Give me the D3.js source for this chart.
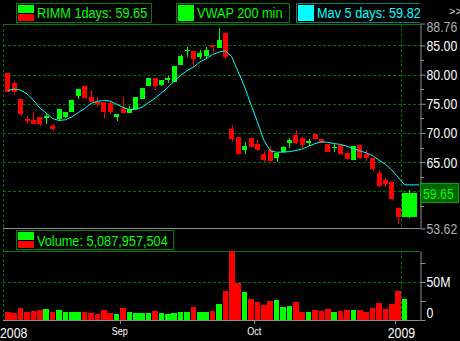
<!DOCTYPE html>
<html>
<head>
<meta charset="utf-8">
<script src="https://cdnjs.cloudflare.com/ajax/libs/d3/7.8.5/d3.min.js"></script>
<style>
    html, body { margin: 0; padding: 0; background: #000; }
    svg { display: block; }
    text { font-family: "Liberation Sans", Arial, sans-serif; }
</style>
</head>
<body>
<svg id="chart" width="460" height="341"></svg>
<script>
'use strict';

// daily candles (last one is the current day)
var opens = [80.33, 78.6, 75.82, 72.45, 72.28, 72.74, 72.52, 71.25, 72.35, 72.74,
    73.65, 76.39, 78.05, 76.16, 75.53, 75.36, 75.14, 72.79, 74.33, 73.48,
    74.11, 75.82, 78.05, 79.37, 78.27, 79.08, 78.68, 81.7, 83.99, 84.04,
    83.07, 83.24, 85.02, 84.64, 87.12, 70.68, 69.31, 67.09, 69.14, 68.12,
    66.4, 67.09, 65.77, 66.8, 68.34, 69.71, 69.2, 68.34, 69.88, 68.97,
    68.17, 67.38, 67.94, 66.63, 65.35, 67.94, 66.4, 65.77, 63.1, 61.95,
    61.55, 57.1, 55.67];
var highs = [80.33, 78.96, 75.82, 72.9, 73.65, 72.74, 73.48, 71.59, 74.11, 73.6,
    75.65, 77.53, 78.05, 77.36, 76.16, 75.36, 75.48, 73.25, 76.16, 74.62,
    76.16, 77.7, 79.37, 79.37, 79.08, 79.81, 81.47, 83.35, 84.78, 84.04,
    84.21, 84.73, 85.02, 87.93, 87.12, 71.37, 69.31, 68.46, 69.14, 68.75,
    66.92, 67.77, 66.58, 67.83, 69.2, 70.51, 69.37, 68.97, 69.88, 68.97,
    68.17, 68.17, 67.94, 66.97, 67.77, 67.94, 67.09, 65.77, 63.66, 62.29,
    61.55, 57.33, 60.24];
var lows = [77.07, 76.5, 72.9, 71.6, 71.59, 71.25, 71.49, 70.34, 72.06, 72.52,
    73.65, 75.82, 75.82, 75.36, 74.4, 72.4, 73.3, 72.1, 73.48, 73.48,
    74.11, 75.82, 78.05, 77.36, 78.05, 78.5, 78.68, 81.7, 83.07, 81.52,
    82.67, 82.84, 83.75, 84.64, 82.72, 68.52, 66.35, 66.35, 67.55, 66.97,
    65.09, 65.09, 65.09, 66.8, 67.48, 68.17, 67.38, 67.77, 69.03, 68.24,
    66.8, 66.75, 66.23, 65.46, 65.35, 65.55, 65.15, 63.55, 60.81, 60.81,
    58.5, 54.42, 55.4];
var closes = [77.07, 76.97, 73.2, 72.0, 71.59, 71.59, 72.96, 70.63, 74.11, 73.6,
    75.65, 77.53, 76.04, 75.36, 74.97, 73.54, 73.65, 73.25, 73.48, 74.11,
    76.16, 77.7, 79.37, 78.05, 79.08, 79.47, 81.47, 83.18, 84.21, 82.62,
    83.75, 84.21, 84.67, 85.92, 82.96, 68.92, 66.35, 67.77, 67.55, 67.15,
    65.33, 65.26, 66.58, 67.66, 68.85, 68.34, 67.89, 68.63, 69.03, 68.24,
    66.8, 67.66, 66.46, 65.46, 67.77, 65.77, 65.63, 63.78, 60.93, 61.27,
    58.7, 55.67, 59.65];

// volume in millions
var volumes = [10.5, 9.2, 15.8, 10.5, 11.8, 13.2, 14.5, 10.5, 13.2, 10.5,
    10.5, 10.5, 10.5, 9.2, 7.9, 13.2, 9.2, 7.9, 15.8, 10.5,
    9.2, 9.2, 9.2, 11.8, 9.2, 7.9, 9.2, 10.5, 10.5, 17.1,
    10.5, 10.5, 11.8, 21, 38.2, 92, 49.1, 36.8, 27.6, 24.1,
    19.7, 25.4, 26.3, 17.1, 18.4, 23.7, 10.5, 10.5, 13.2, 11.8,
    14.5, 10.5, 11.8, 13.2, 13.2, 13.2, 10.5, 15.8, 22.4, 14.5,
    21, 38.2, 27.6];

// the cyan moving average line
var mav = [77.28, 77.52, 77.35, 76.70, 75.62, 74.28, 73.39, 72.47, 72.14, 72.26,
    72.74, 73.49, 74.18, 75.07, 75.43, 75.57, 75.45, 74.93, 74.37, 74.01,
    74.04, 74.42, 75.21, 75.94, 76.85, 77.81, 78.90, 79.85, 80.70, 81.27,
    82.14, 82.74, 83.44, 83.87, 84.08, 83.03, 80.48, 77.91, 74.86, 71.90,
    68.80, 66.95, 66.70, 66.70, 66.80, 66.99, 67.24, 67.71, 68.17, 68.48,
    68.39, 68.18, 68.03, 67.72, 67.36, 66.93, 66.58, 66.13, 65.31, 64.66,
    63.66, 62.38, 61.10];

var priceTicks = [88.76, 85, 80, 75, 70, 65, 60, 53.62];
var priceMinorTicks = [82.5, 77.5, 72.5, 67.5, 62.5, 57.5];
var priceGrid = [85, 80, 75, 70, 65, 60];
var volTicks = [0, 25, 50, 75];
var volLabels = { 0: '0', 50: '50M' };
var monthTicks = [{ label: 'Sep', i: 18 }, { label: 'Oct', i: 39 }, { label: '', i: 61 }];
var yearLabels = [{ label: '2008', i: null }, { label: '2009', i: 62 }];

var legendPrice = 'RIMM 1days: 59.65';
var legendVwap = 'VWAP 200 min';
var legendMav = 'Mav 5 days: 59.82';
var legendVol = 'Volume: 5,087,957,504';

(function() {
    var GREEN = '#00ff00', RED = '#ff0000', CYAN = '#00ffff';
    var GRID = '#007000', AXIS = '#909090';
    var SQUEEZE = 0.82;   // the original uses a narrow face

    var left = 3, right = 420;
    var pTop = 23.5, pBottom = 228.5;
    var vTop = 251, vBottom = 320;

    var svg = d3.select('#chart');
    svg.append('rect').attr('width', 460).attr('height', 341).attr('fill', '#000');

    var data = opens.map(function(o, i) {
        return { i: i, o: o, h: highs[i], l: lows[i], c: closes[i], v: volumes[i], m: mav[i] };
    });
    var last = data.length - 1;

    var x = d3.scaleLinear().domain([0, 61]).range([7.8, 398.2]);
    var y = d3.scaleLinear().domain([53.62, 88.76]).range([pBottom, pTop]);
    var yv = d3.scaleLinear().domain([0, 90.8]).range([vBottom, vTop]);

    function col(d) { return d.c >= d.o ? GREEN : RED; }

    // squeeze text horizontally to mimic the narrow font
    function narrow(sel) {
        sel.each(function() {
            var len = this.getComputedTextLength();
            if (len > 0) {
                d3.select(this).attr('textLength', len * SQUEEZE).attr('lengthAdjust', 'spacingAndGlyphs');
            }
        });
    }

    // grid lines
    var grid = svg.append('g').attr('stroke', GRID).attr('stroke-dasharray', '3,2')
        .attr('shape-rendering', 'crispEdges');
    grid.selectAll('line.h').data(priceGrid).enter().append('line')
        .attr('x1', left).attr('x2', right)
        .attr('y1', function(d) { return Math.round(y(d)) + 0.5; })
        .attr('y2', function(d) { return Math.round(y(d)) + 0.5; });
    grid.append('line').attr('x1', left).attr('x2', right)
        .attr('y1', Math.round(yv(50)) + 0.5).attr('y2', Math.round(yv(50)) + 0.5);
    grid.append('line').attr('x1', left + 0.5).attr('x2', left + 0.5)
        .attr('y1', 24).attr('y2', vBottom);
    var yearX = Math.round(x(yearLabels[1].i - 0.5)) + 0.5;
    grid.append('line').attr('x1', yearX).attr('x2', yearX).attr('y1', 24).attr('y2', pBottom);
    grid.append('line').attr('x1', yearX).attr('x2', yearX).attr('y1', vTop).attr('y2', vBottom);

    // panel frame lines
    svg.append('line').attr('x1', left).attr('x2', right).attr('y1', 24.5).attr('y2', 24.5)
        .attr('stroke', '#008000');
    svg.append('line').attr('x1', left).attr('x2', right).attr('y1', 228.5).attr('y2', 228.5)
        .attr('stroke', AXIS);
    svg.append('line').attr('x1', left).attr('x2', right).attr('y1', vTop + 0.5).attr('y2', vTop + 0.5)
        .attr('stroke', '#008000');
    svg.append('line').attr('x1', left).attr('x2', right).attr('y1', vBottom + 0.5).attr('y2', vBottom + 0.5)
        .attr('stroke', AXIS);

    // candles
    var candles = svg.append('g').attr('shape-rendering', 'crispEdges');
    var cg = candles.selectAll('g').data(data).enter().append('g');
    cg.append('line')
        .attr('x1', function(d) { return Math.round(x(d.i) + (d.i === last ? 4 : 0)) + 0.5; })
        .attr('x2', function(d) { return Math.round(x(d.i) + (d.i === last ? 4 : 0)) + 0.5; })
        .attr('y1', function(d) { return y(d.h); })
        .attr('y2', function(d) { return y(d.l); })
        .attr('stroke', col);
    cg.append('rect')
        .attr('x', function(d) { return d.i === last ? x(d.i) - 3 : x(d.i) - 2.5; })
        .attr('width', function(d) { return d.i === last ? 15 : 5; })
        .attr('y', function(d) { return y(Math.max(d.o, d.c)); })
        .attr('height', function(d) { return Math.max(1, Math.abs(y(d.o) - y(d.c))); })
        .attr('fill', col);

    // moving average
    var mavPts = data.map(function(d) { return [x(d.i), y(d.m)]; });
    mavPts.push([right - 1, y(mav[last])]);
    svg.append('path').attr('d', d3.line()(mavPts))
        .attr('fill', 'none').attr('stroke', CYAN).attr('stroke-width', 1);

    // volume bars
    svg.append('clipPath').attr('id', 'vclip').append('rect')
        .attr('x', 0).attr('y', vTop).attr('width', right).attr('height', vBottom - vTop);
    svg.append('g').attr('clip-path', 'url(#vclip)').attr('shape-rendering', 'crispEdges')
        .selectAll('rect').data(data).enter().append('rect')
        .attr('x', function(d) { return x(d.i) - 2.8; })
        .attr('width', 5.6)
        .attr('y', function(d) { return yv(d.v); })
        .attr('height', function(d) { return vBottom - yv(d.v); })
        .attr('fill', col);

    // price axis on the right
    var pAxis = svg.append('g').attr('transform', 'translate(' + (right + 0.5) + ',0)')
        .call(d3.axisRight(y).tickValues(priceTicks).tickSize(5).tickSizeOuter(0)
            .tickFormat(d3.format('.2f')));
    pAxis.select('.domain').attr('stroke', AXIS);
    pAxis.selectAll('.tick line').attr('stroke', AXIS);
    pAxis.selectAll('.tick text')
        .attr('x', 6).attr('font-size', 15)
        .attr('font-family', null)
        .attr('fill', function(d) { return (d === 88.76 || d === 53.62) ? '#b0b0b0' : '#ffffff'; })
        .attr('dy', function(d) { return d === 88.76 ? '0.5em' : '0.33em'; })
        .call(narrow);
    svg.append('g').selectAll('line').data(priceMinorTicks).enter().append('line')
        .attr('x1', right).attr('x2', right + 4)
        .attr('y1', function(d) { return Math.round(y(d)) + 0.5; })
        .attr('y2', function(d) { return Math.round(y(d)) + 0.5; })
        .attr('stroke', AXIS);

    // volume axis
    var vAxis = svg.append('g').attr('transform', 'translate(' + (right + 0.5) + ',0)')
        .call(d3.axisRight(yv).tickValues(volTicks).tickSize(5).tickSizeOuter(0)
            .tickFormat(function(d) { return volLabels[d] || ''; }));
    vAxis.select('.domain').attr('stroke', AXIS);
    vAxis.selectAll('.tick line').attr('stroke', AXIS);
    vAxis.selectAll('.tick text')
        .attr('x', 6).attr('font-size', 15).attr('font-family', null).attr('fill', '#ffffff')
        .attr('dy', function(d) { return d === 0 ? '-0.15em' : '0.33em'; })
        .call(narrow);

    // current price box
    var cy = y(closes[last]);
    svg.append('rect').attr('x', right + 0.5).attr('y', Math.round(cy) - 9.5)
        .attr('width', 38).attr('height', 19)
        .attr('fill', '#006400').attr('stroke', '#00b000');
    svg.append('text').attr('x', right + 3).attr('y', cy).attr('dy', '0.35em')
        .attr('font-size', 15).attr('fill', GREEN).text(closes[last].toFixed(2))
        .call(narrow);

    // time axis
    svg.append('g').selectAll('line').data(monthTicks).enter().append('line')
        .attr('x1', function(d) { return Math.round(x(d.i - 0.5)) + 0.5; })
        .attr('x2', function(d) { return Math.round(x(d.i - 0.5)) + 0.5; })
        .attr('y1', vBottom).attr('y2', vBottom + 4)
        .attr('stroke', AXIS);
    svg.append('g').selectAll('text').data(monthTicks.filter(function(d) { return d.label; }))
        .enter().append('text')
        .attr('x', function(d) { return x(d.i - 0.5); })
        .attr('y', 335).attr('text-anchor', 'middle')
        .attr('font-size', 11).attr('fill', '#ffffff')
        .text(function(d) { return d.label; })
        .call(narrow);
    svg.append('g').selectAll('text').data(yearLabels).enter().append('text')
        .attr('x', function(d) { return d.i === null ? 0 : x(d.i - 0.5); })
        .attr('y', 338)
        .attr('text-anchor', function(d) { return d.i === null ? 'start' : 'middle'; })
        .attr('font-size', 15).attr('fill', '#ffffff')
        .text(function(d) { return d.label; })
        .call(narrow);

    // legends
    function twoTone(g, lx, ly) {
        g.append('rect').attr('x', lx).attr('y', ly).attr('width', 16).attr('height', 7.5).attr('fill', GREEN);
        g.append('rect').attr('x', lx).attr('y', ly + 8.5).attr('width', 16).attr('height', 7.5).attr('fill', RED);
    }

    var lg = svg.append('g').attr('shape-rendering', 'crispEdges');
    lg.append('rect').attr('x', 16.5).attr('y', 3.5).attr('width', 135).attr('height', 19)
        .attr('fill', '#000').attr('stroke', '#008000');
    twoTone(lg, 18, 5);
    lg.append('text').attr('x', 37).attr('y', 18.3).attr('font-size', 15.5).attr('fill', GREEN)
        .text(legendPrice).call(narrow);

    lg.append('rect').attr('x', 176.5).attr('y', 3.5).attr('width', 113).attr('height', 19)
        .attr('fill', '#000').attr('stroke', '#008000');
    lg.append('rect').attr('x', 178).attr('y', 5).attr('width', 16).attr('height', 16).attr('fill', GREEN);
    lg.append('text').attr('x', 197).attr('y', 18.3).attr('font-size', 15.5).attr('fill', GREEN)
        .text(legendVwap).call(narrow);

    svg.append('clipPath').attr('id', 'lclip').append('rect')
        .attr('x', 0).attr('y', 0).attr('width', right).attr('height', 30);
    var lm = svg.append('g').attr('clip-path', 'url(#lclip)').attr('shape-rendering', 'crispEdges');
    lm.append('rect').attr('x', 296.5).attr('y', 3.5).attr('width', 140).attr('height', 19)
        .attr('fill', '#000').attr('stroke', '#008080');
    lm.append('rect').attr('x', 298).attr('y', 5).attr('width', 16).attr('height', 16).attr('fill', CYAN);
    lm.append('text').attr('x', 317).attr('y', 18.3).attr('font-size', 15.5).attr('fill', CYAN)
        .text(legendMav).call(narrow);

    svg.append('text').attr('x', 449).attr('y', 15).attr('font-size', 11).attr('fill', '#d0d0d0')
        .text('>>');

    lg.append('rect').attr('x', 16.5).attr('y', 230.5).attr('width', 157).attr('height', 19)
        .attr('fill', '#000').attr('stroke', '#008000');
    twoTone(lg, 18, 232);
    lg.append('text').attr('x', 37).attr('y', 245.5).attr('font-size', 15.5).attr('fill', GREEN)
        .text(legendVol).call(narrow);
})();
</script>
</body>
</html>
